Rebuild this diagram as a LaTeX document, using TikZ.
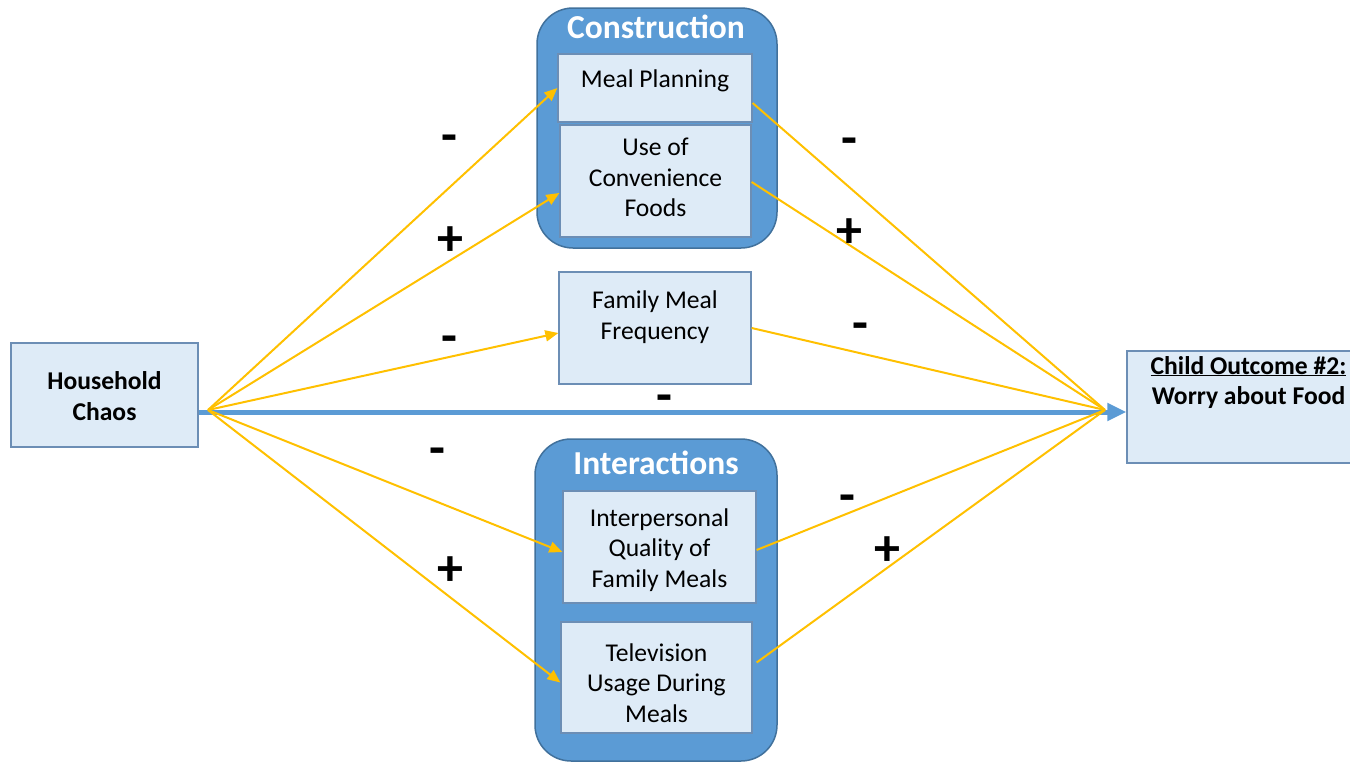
\documentclass[tikz,border=0pt]{standalone}
\usepackage{fontspec}
\setmainfont{Carlito}
\usetikzlibrary{arrows.meta}
\definecolor{boxfill}{HTML}{DEEBF7}
\definecolor{boxline}{HTML}{6C8EB5}
\definecolor{grpfill}{HTML}{5B9BD5}
\definecolor{grpline}{HTML}{41719C}
\definecolor{ylw}{HTML}{FFC000}
% #1 height, #2 width, #3 space before, #4 space after, #5 text
\newcommand\bxtext[5]{\parbox[c][#1][c]{#2}{\centering\vspace*{#3}#5\par\vspace*{#4}}}
\begin{document}
\begin{tikzpicture}[x=1pt,y=-1pt,
  inbox/.style={draw=boxline,line width=1.3pt,fill=boxfill,inner sep=0pt,
    font=\fontsize{25.6}{30.8}\selectfont},
  grp/.style={draw=grpline,line width=1.5pt,fill=grpfill,rounded corners=36pt},
  grptitle/.style={text=white,font=\fontsize{33.5}{36}\selectfont\bfseries},
  ylink/.style={draw=ylw,line width=2pt},
  yarrow/.style={ylink,-{Triangle[length=13pt,width=11pt]}},
  sign/.style={font=\fontsize{52}{56}\selectfont\bfseries,anchor=base,inner sep=0pt},
]
\useasboundingbox (0,0) rectangle (1350,761);
% groups
\path[grp] (537,8) rectangle (777,248);
\path[grp] (535,439) rectangle (777,761);
\node[grptitle] (tc) at (656,27) {Construction};
\node[grptitle] (ti) at (656,463) {Interactions};
% boxes
\node[inbox] (mp) at (655,88) {\bxtext{68pt}{194pt}{0pt}{14pt}{Meal Planning}};
\node[inbox] (uc) at (655.5,181) {\bxtext{112pt}{191pt}{0pt}{7pt}{Use of\\Convenience\\Foods}};
\node[inbox] (fm) at (655,328) {\bxtext{112pt}{192pt}{0pt}{22pt}{Family Meal\\Frequency}};
\node[inbox] (ip) at (659.5,547) {\bxtext{112pt}{193pt}{6pt}{0pt}{Interpersonal\\Quality of\\Family Meals}};
\node[inbox] (tv) at (656.5,677.5) {\bxtext{111pt}{191pt}{11pt}{0pt}{Television\\Usage During\\Meals}};
\node[inbox,font=\fontsize{25.6}{30.8}\selectfont\bfseries] (hc) at (104.5,395) {\bxtext{104pt}{187pt}{3pt}{0pt}{Household\\Chaos}};
\node[inbox,font=\fontsize{25.6}{30.8}\selectfont\bfseries] (co) at (1248.5,407) {\bxtext{112pt}{243pt}{0pt}{49pt}{\underline{Child Outcome \#2:}\\Worry about Food}};
% hubs
\coordinate (src) at (208,410);
\coordinate (dst) at (1105,410);
% direct effect
\draw[draw=grpfill,line width=5pt,-{Triangle[length=19pt,width=17pt]}] ([yshift=-17pt]hc.east) -- ([yshift=-5pt]co.west);
% a paths
\draw[yarrow] (src) -- (mp.west);
\draw[yarrow] (src) -- ([yshift=-12pt]uc.west);
\draw[yarrow] (src) -- ([yshift=-5pt]fm.west);
\draw[yarrow] (src) -- ([yshift=-5pt]ip.west);
\draw[yarrow] (src) -- ([yshift=-5pt]tv.west);
% b paths
\draw[ylink] ([yshift=-15pt]mp.east) -- (dst);
\draw[ylink] ([yshift=-1pt]uc.east) -- (dst);
\draw[ylink] (fm.east) -- (dst);
\draw[ylink] ([yshift=-3pt]ip.east) -- (dst);
\draw[ylink] ([xshift=4pt,yshift=15pt]tv.east) -- (dst);
% signs (base anchor: minus +15, plus +17 below its visual centre)
\node[sign] (s1) at (449,152) {-};
\node[sign] (s2) at (450,255) {+};
\node[sign] (s3) at (449,353) {-};
\node[sign] (s4) at (437,465) {-};
\node[sign] (s5) at (450,585) {+};
\node[sign] (s6) at (849,155) {-};
\node[sign] (s7) at (849,247) {+};
\node[sign] (s8) at (860,340) {-};
\node[sign] (s9) at (664,412) {-};
\node[sign] (s10) at (847,512) {-};
\node[sign] (s11) at (887,565) {+};
\end{tikzpicture}
\end{document}
